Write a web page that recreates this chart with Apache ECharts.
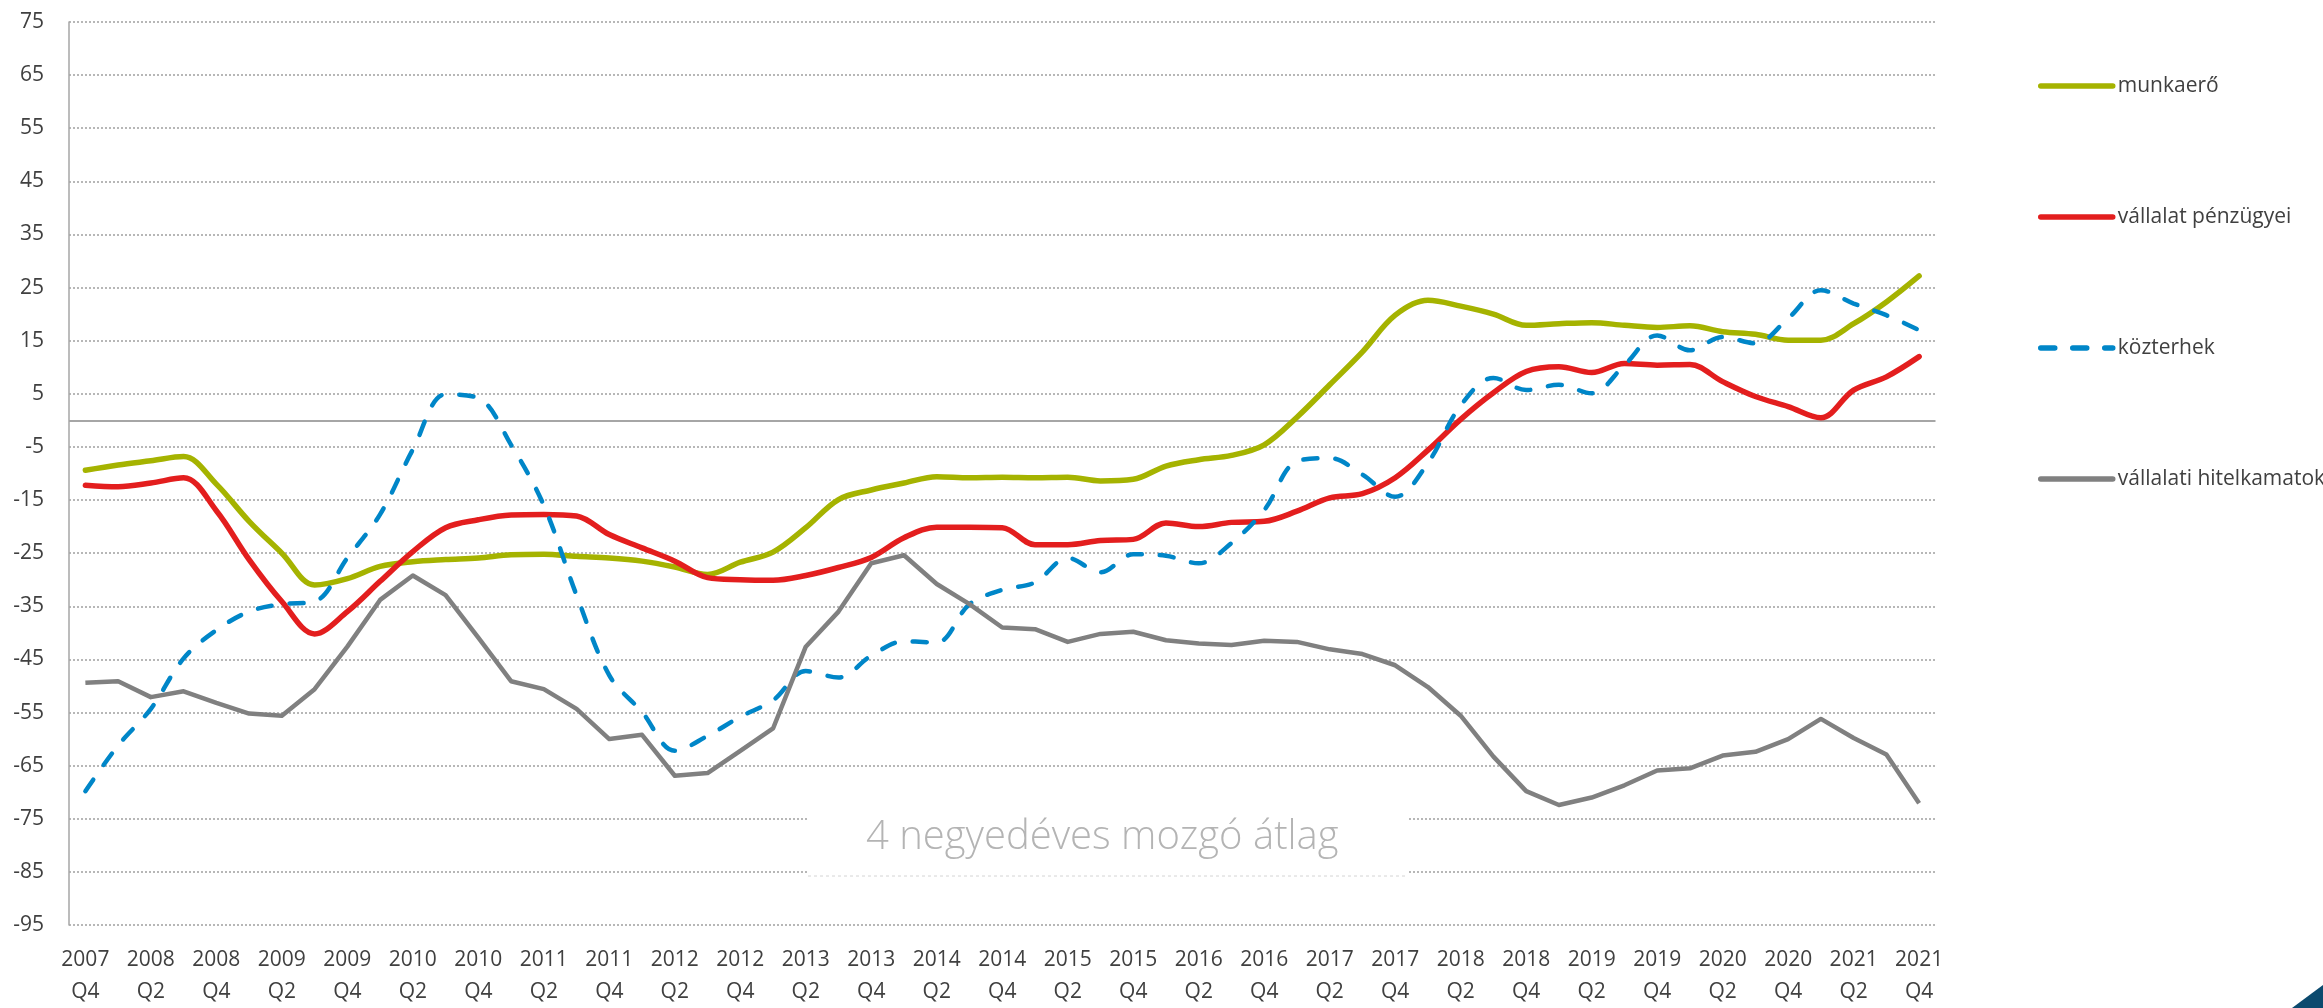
<!DOCTYPE html>
<html>
<head>
<meta charset="utf-8">
<script src="https://cdn.jsdelivr.net/npm/echarts@6/dist/echarts.min.js"></script>
<style>
html,body{margin:0;padding:0;background:#fff;}
#chart{width:2323px;height:1008px;}
</style>
</head>
<body>
<div id="chart"></div>
<script>
const categories = [
 '2007 Q4',
 '2008 Q1','2008 Q2','2008 Q3','2008 Q4',
 '2009 Q1','2009 Q2','2009 Q3','2009 Q4',
 '2010 Q1','2010 Q2','2010 Q3','2010 Q4',
 '2011 Q1','2011 Q2','2011 Q3','2011 Q4',
 '2012 Q1','2012 Q2','2012 Q3','2012 Q4',
 '2013 Q1','2013 Q2','2013 Q3','2013 Q4',
 '2014 Q1','2014 Q2','2014 Q3','2014 Q4',
 '2015 Q1','2015 Q2','2015 Q3','2015 Q4',
 '2016 Q1','2016 Q2','2016 Q3','2016 Q4',
 '2017 Q1','2017 Q2','2017 Q3','2017 Q4',
 '2018 Q1','2018 Q2','2018 Q3','2018 Q4',
 '2019 Q1','2019 Q2','2019 Q3','2019 Q4',
 '2020 Q1','2020 Q2','2020 Q3','2020 Q4',
 '2021 Q1','2021 Q2','2021 Q3','2021 Q4'
];

const munkaero = [
 -9.4,
 -8.4,-7.6,-6.8,-12.0,
 -19.0,-25.0,-31.0,-29.8,
 -27.5,-26.6,-26.2,-25.9,
 -25.3,-25.2,-25.6,-25.9,
 -26.5,-27.6,-29.0,-26.7,
 -24.8,-20.2,-14.9,-13.1,
 -11.8,-10.6,-10.8,-10.7,
 -10.8,-10.7,-11.4,-11.1,
 -8.6,-7.4,-6.6,-4.6,
 0.6,6.7,12.9,19.8,
 22.6,21.5,20.0,17.9,
 18.2,18.4,17.9,17.5,
 17.8,16.7,16.2,15.1,
 15.1,18.2,22.3,27.2
];

const vallalatPenzugyei = [
 -12.2,
 -12.5,-11.8,-10.8,-17.0,
 -26.2,-34.1,-40.2,-36.0,
 -30.3,-24.7,-20.2,-18.7,
 -17.8,-17.7,-18.0,-21.5,
 -24.0,-26.5,-29.6,-30.0,
 -30.1,-29.2,-27.7,-25.8,
 -22.1,-20.1,-20.1,-20.2,
 -23.4,-23.4,-22.6,-22.4,
 -19.3,-20.0,-19.2,-19.0,
 -17.1,-14.6,-13.8,-10.8,
 -5.6,0.2,5.2,9.2,
 10.1,9.0,10.7,10.4,
 10.5,7.3,4.5,2.6,
 0.5,5.7,8.2,12.0
];

const kozterhek = [
 -69.8,
 -61.2,-54.3,-44.8,-39.5,
 -36.0,-34.6,-34.1,-25.9,
 -17.7,-5.5,4.9,4.2,
 -4.6,-16.0,-32.9,-48.0,
 -54.9,-62.2,-59.4,-55.8,
 -52.7,-47.2,-48.4,-44.3,
 -41.6,-41.8,-34.6,-31.9,
 -30.5,-25.9,-28.6,-25.2,
 -25.5,-26.9,-23.1,-16.9,
 -7.7,-7.1,-10.2,-14.4,
 -8.0,2.8,8.0,5.7,
 6.7,5.1,10.4,16.0,
 13.2,15.7,14.5,19.2,
 24.5,22.0,19.8,17.0
];

const hitelkamatok = [
 -49.4,
 -49.1,-52.1,-51.0,-53.2,
 -55.2,-55.6,-50.6,-42.6,
 -33.8,-29.2,-32.9,-40.9,
 -49.1,-50.6,-54.3,-60.0,
 -59.2,-66.9,-66.4,-62.2,
 -58.0,-42.6,-36.0,-26.9,
 -25.4,-30.8,-34.6,-39.0,
 -39.3,-41.7,-40.2,-39.8,
 -41.4,-42.0,-42.3,-41.5,
 -41.7,-43.1,-44.0,-46.1,
 -50.2,-55.6,-63.3,-69.8,
 -72.4,-71.0,-68.7,-65.9,
 -65.5,-63.1,-62.4,-60.0,
 -56.2,-59.8,-62.9,-72.1
];

const seriesNames = ['munkaerő','vállalat pénzügyei','közterhek','vállalati hitelkamatok'];
const yMin = -95, yMax = 75, yStep = 10;
const annotationText = '4 negyedéves mozgó átlag';

const FONT = '"Open Sans", "Noto Sans", sans-serif';
const chart = echarts.init(document.getElementById('chart'), null, {renderer:'canvas'});

const option = {
  animation: false,
  backgroundColor: '#ffffff',
  textStyle: {fontFamily: FONT},
  grid: {left: 69, right: 387.5, top: 22, bottom: 78, containLabel: false},
  legend: {
    orient: 'vertical',
    left: 2033,
    top: 69,
    itemWidth: 72,
    itemHeight: 14,
    itemGap: 107,
    itemStyle: {opacity: 0},
    lineStyle: {width: 5.5, cap: 'round'},
    textStyle: {fontFamily: FONT, fontSize: 21, color: '#404040', lineHeight: 24},
    data: seriesNames
  },
  xAxis: {
    type: 'category',
    data: categories,
    boundaryGap: true,
    axisLine: {show: false, onZero: false},
    axisTick: {show: false},
    splitLine: {show: false},
    axisLabel: {
      interval: 1,
      margin: 19,
      fontFamily: FONT,
      fontSize: 21,
      color: '#404040',
      lineHeight: 32,
      formatter: function (v) { return v.replace(' ', '\n'); }
    }
  },
  yAxis: {
    type: 'value',
    min: yMin,
    max: yMax,
    interval: yStep,
    axisLine: {show: true, lineStyle: {color: '#a6a6a6', width: 1.5}},
    axisTick: {show: false},
    axisLabel: {fontFamily: FONT, fontSize: 21, color: '#404040', margin: 25},
    splitLine: {show: true, lineStyle: {color: '#a6a6a6', width: 1.6, type: [2, 2]}}
  },
  series: [
    {
      name: seriesNames[0], type: 'line', data: munkaero, smooth: 0.35,
      showSymbol: false, symbol: 'none',
      lineStyle: {color: '#a5b300', width: 5.5, cap: 'round'},
      itemStyle: {color: '#a5b300'},
      z: 3,
      markLine: {
        silent: true, symbol: 'none', label: {show: false},
        lineStyle: {color: '#a6a6a6', width: 2, type: 'solid'},
        data: [{yAxis: 0}],
        z: 1
      }
    },
    {
      name: seriesNames[1], type: 'line', data: vallalatPenzugyei, smooth: 0.35,
      showSymbol: false, symbol: 'none',
      lineStyle: {color: '#e31e1e', width: 5.5, cap: 'round'},
      itemStyle: {color: '#e31e1e'},
      z: 4
    },
    {
      name: seriesNames[2], type: 'line', data: kozterhek, smooth: 0.35,
      showSymbol: false, symbol: 'none',
      lineStyle: {color: '#0086c8', width: 4.5, type: [14, 18], cap: 'round'},
      itemStyle: {color: '#0086c8'},
      z: 5
    },
    {
      name: seriesNames[3], type: 'line', data: hitelkamatok, smooth: false,
      showSymbol: false, symbol: 'none',
      lineStyle: {color: '#808080', width: 4.5, join: 'round'},
      itemStyle: {color: '#808080'},
      z: 6
    }
  ],
  graphic: [
    {type: 'rect', z: 100, shape: {x: 808, y: 790, width: 599, height: 88}, style: {fill: '#ffffff'}},
    {type: 'line', z: 101, shape: {x1: 808, y1: 876, x2: 1407, y2: 876}, style: {stroke: '#d4d4d4', lineWidth: 1, lineDash: [3, 3]}},
    {type: 'text', z: 102, left: 1107 - 241, top: 818,
      style: {text: annotationText, font: '300 40px "Open Sans", "Noto Sans", sans-serif', fill: '#b4b4b4'}},
    {type: 'polygon', z: 100, shape: {points: [[2292, 1008], [2323, 985], [2323, 1008]]}, style: {fill: '#0b4a6e'}}
  ]
};
chart.setOption(option);
</script>
</body>
</html>
